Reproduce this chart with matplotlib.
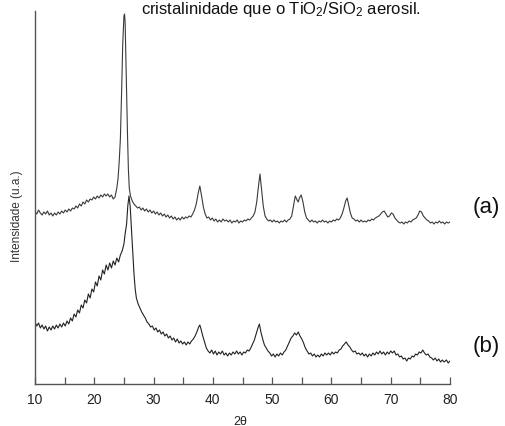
import matplotlib
matplotlib.use('Agg')
import matplotlib.pyplot as plt
from matplotlib.ticker import MultipleLocator

plt.rcParams['font.family'] = ['Liberation Sans', 'DejaVu Sans']
plt.rcParams['mathtext.fontset'] = 'custom'
plt.rcParams['mathtext.rm'] = 'Liberation Sans'
plt.rcParams['mathtext.it'] = 'Liberation Sans'

# sample (a) (intensity in arbitrary units)
two_theta_a = [10.0, 10.3, 10.6, 10.9, 11.2, 11.5, 11.8, 12.1, 12.4, 12.7, 13.0, 13.3, 13.6, 13.9,
               14.2, 14.5, 14.8, 15.1, 15.4, 15.7, 16.0, 16.3, 16.6, 16.9, 17.2, 17.5, 17.8, 18.1,
               18.4, 18.7, 19.0, 19.3, 19.6, 19.9, 20.2, 20.5, 20.8, 21.1, 21.4, 21.7, 22.0, 22.3,
               22.6, 22.9, 23.2, 23.5, 23.8, 24.0, 24.2, 24.4, 24.6, 24.8, 25.0, 25.1, 25.2, 25.35,
               25.5, 25.6, 25.75, 25.9, 26.1, 26.4, 26.7, 27.0, 27.3, 27.6, 27.9, 28.2, 28.5, 28.8,
               29.1, 29.4, 29.7, 30.0, 30.3, 30.6, 30.9, 31.2, 31.5, 31.8, 32.1, 32.4, 32.7, 33.0,
               33.3, 33.6, 33.9, 34.2, 34.5, 34.8, 35.1, 35.4, 35.7, 36.0, 36.3, 36.6, 36.9, 37.2,
               37.5, 37.8, 38.1, 38.4, 38.7, 39.0, 39.3, 39.6, 39.9, 40.2, 40.5, 40.8, 41.1, 41.4,
               41.7, 42.0, 42.3, 42.6, 42.9, 43.2, 43.5, 43.8, 44.1, 44.4, 44.7, 45.0, 45.3, 45.6,
               45.9, 46.2, 46.5, 46.8, 47.1, 47.4, 47.7, 47.95, 48.2, 48.5, 48.8, 49.1, 49.4, 49.7,
               50.0, 50.3, 50.6, 50.9, 51.2, 51.5, 51.8, 52.1, 52.4, 52.7, 53.0, 53.3, 53.6, 53.9,
               54.2, 54.4, 54.6, 54.9, 55.2, 55.5, 55.8, 56.1, 56.4, 56.7, 57.0, 57.3, 57.6, 57.9,
               58.2, 58.5, 58.8, 59.1, 59.4, 59.7, 60.0, 60.3, 60.6, 60.9, 61.2, 61.5, 61.8, 62.1,
               62.4, 62.65, 62.9, 63.2, 63.5, 63.8, 64.1, 64.4, 64.7, 65.0, 65.3, 65.6, 65.9, 66.2,
               66.5, 66.8, 67.1, 67.4, 67.7, 68.0, 68.3, 68.6, 68.9, 69.2, 69.5, 69.8, 70.1, 70.4,
               70.7, 71.0, 71.3, 71.6, 71.9, 72.2, 72.5, 72.8, 73.1, 73.4, 73.7, 74.0, 74.3, 74.6,
               74.9, 75.2, 75.5, 75.8, 76.1, 76.4, 76.7, 77.0, 77.3, 77.6, 77.9, 78.2, 78.5, 78.8,
               79.1, 79.4, 79.7, 80.0]
intens_a = [172, 170, 174, 171, 169, 172, 170, 173, 169, 171, 168, 171, 169, 172,
            170, 173, 171, 174, 172, 175, 173, 176, 175, 178, 176, 180, 178, 182,
            180, 184, 182, 185, 184, 187, 185, 188, 186, 189, 187, 190, 188, 190,
            187, 189, 185, 187, 196, 205, 222, 245, 290, 340, 368, 370, 362, 320,
            275, 250, 215, 196, 188, 183, 180, 178, 176, 177, 174, 176, 173, 175,
            172, 174, 171, 173, 170, 172, 169, 171, 168, 170, 167, 169, 166, 168,
            165, 167, 164, 166, 164, 167, 165, 167, 166, 168, 167, 170, 174, 180,
            190, 198, 188, 177, 170, 166, 167, 164, 166, 163, 165, 162, 164, 162,
            165, 163, 164, 162, 164, 161, 163, 162, 164, 161, 163, 162, 164, 163,
            165, 164, 166, 168, 172, 182, 198, 210, 195, 178, 168, 165, 163, 164,
            162, 164, 162, 163, 161, 163, 162, 164, 162, 164, 165, 168, 178, 188,
            184, 182, 186, 189, 182, 172, 166, 164, 162, 164, 162, 163, 161, 163,
            162, 164, 162, 163, 161, 163, 162, 164, 163, 165, 164, 166, 170, 176,
            183, 186, 179, 171, 166, 165, 163, 164, 162, 164, 162, 163, 162, 164,
            163, 165, 164, 166, 167, 168, 170, 172, 173, 170, 167, 168, 171, 170,
            166, 164, 162, 161, 162, 160, 162, 161, 163, 162, 164, 165, 166, 169,
            173, 172, 168, 166, 164, 163, 161, 162, 160, 162, 161, 163, 161, 162,
            160, 162, 161, 162]

# sample (b)
two_theta_b = [10.0, 10.3, 10.6, 10.9, 11.2, 11.5, 11.8, 12.1, 12.4, 12.7, 13.0, 13.3, 13.6, 13.9,
               14.2, 14.5, 14.8, 15.1, 15.4, 15.7, 16.0, 16.3, 16.6, 16.9, 17.2, 17.5, 17.8, 18.1,
               18.4, 18.7, 19.0, 19.3, 19.6, 19.9, 20.2, 20.5, 20.8, 21.1, 21.4, 21.7, 22.0, 22.3,
               22.6, 22.9, 23.2, 23.5, 23.8, 24.1, 24.4, 24.7, 25.0, 25.2, 25.45, 25.65, 25.85, 26.05,
               26.3, 26.5, 26.7, 26.9, 27.1, 27.4, 27.7, 28.0, 28.3, 28.6, 28.9, 29.2, 29.5, 29.8,
               30.1, 30.4, 30.7, 31.0, 31.3, 31.6, 31.9, 32.2, 32.5, 32.8, 33.1, 33.4, 33.7, 34.0,
               34.3, 34.6, 34.9, 35.2, 35.5, 35.8, 36.1, 36.4, 36.7, 37.0, 37.3, 37.6, 37.8, 38.0,
               38.3, 38.6, 38.9, 39.2, 39.5, 39.8, 40.1, 40.4, 40.7, 41.0, 41.3, 41.6, 41.9, 42.2,
               42.5, 42.8, 43.1, 43.4, 43.7, 44.0, 44.3, 44.6, 44.9, 45.2, 45.5, 45.8, 46.1, 46.4,
               46.7, 47.0, 47.3, 47.6, 47.85, 48.1, 48.4, 48.7, 49.0, 49.3, 49.6, 49.9, 50.2, 50.5,
               50.8, 51.1, 51.4, 51.7, 52.0, 52.3, 52.6, 52.9, 53.2, 53.5, 53.8, 54.1, 54.4, 54.7,
               55.0, 55.3, 55.6, 55.9, 56.2, 56.5, 56.8, 57.1, 57.4, 57.7, 58.0, 58.3, 58.6, 58.9,
               59.2, 59.5, 59.8, 60.1, 60.4, 60.7, 61.0, 61.3, 61.6, 61.9, 62.2, 62.5, 62.8, 63.1,
               63.4, 63.7, 64.0, 64.3, 64.6, 64.9, 65.2, 65.5, 65.8, 66.1, 66.4, 66.7, 67.0, 67.3,
               67.6, 67.9, 68.2, 68.5, 68.8, 69.1, 69.4, 69.7, 70.0, 70.3, 70.6, 70.9, 71.2, 71.5,
               71.8, 72.1, 72.4, 72.7, 73.0, 73.3, 73.6, 73.9, 74.2, 74.5, 74.8, 75.1, 75.4, 75.7,
               76.0, 76.3, 76.6, 76.9, 77.2, 77.5, 77.8, 78.1, 78.4, 78.7, 79.0, 79.4, 79.7, 80.0]
intens_b = [62, 58, 61, 56, 59, 55, 58, 53, 57, 54, 58, 55, 59, 56,
            60, 57, 61, 58, 63, 60, 66, 63, 70, 67, 74, 71, 79, 76,
            84, 81, 90, 86, 95, 92, 102, 98, 108, 104, 114, 110, 119, 114,
            121, 116, 123, 119, 126, 122, 129, 133, 140, 150, 160, 178, 188, 178,
            152, 130, 110, 95, 86, 80, 76, 72, 69, 66, 62, 60, 57, 58,
            54, 56, 52, 54, 50, 52, 48, 50, 46, 48, 44, 46, 42, 45,
            41, 43, 40, 42, 39, 42, 40, 43, 45, 48, 52, 57, 59, 55,
            48, 42, 36, 33, 31, 34, 30, 33, 29, 32, 30, 33, 29, 31,
            28, 31, 29, 32, 30, 33, 30, 32, 29, 32, 31, 34, 33, 36,
            40, 44, 50, 56, 60, 52, 45, 39, 36, 33, 31, 28, 30, 27,
            30, 28, 31, 29, 32, 34, 38, 42, 46, 48, 51, 49, 52, 48,
            45, 41, 36, 33, 30, 31, 28, 30, 27, 29, 27, 30, 28, 31,
            29, 31, 29, 32, 30, 32, 31, 34, 35, 38, 40, 42, 39, 37,
            34, 32, 33, 30, 31, 29, 31, 28, 30, 27, 30, 28, 31, 29,
            32, 30, 33, 30, 32, 29, 32, 30, 33, 31, 33, 29, 30, 27,
            28, 25, 26, 23, 26, 25, 28, 27, 30, 29, 32, 31, 34, 31,
            29, 30, 27, 26, 24, 26, 23, 25, 22, 24, 22, 24, 21, 23]

x_ticks = [10, 20, 30, 40, 50, 60, 70, 80]
sample_labels = ['(a)', '(b)']

fig = plt.figure(figsize=(5.05, 4.27), dpi=100)
ax = fig.add_axes([35 / 505, 1 - 385 / 427, 415 / 505, 373 / 427])

ax.plot(two_theta_a, intens_a, color='#3a3a3a', linewidth=0.8)
ax.plot(two_theta_b, intens_b, color='#222222', linewidth=0.8)

ax.set_xlim(10, 80)
ax.set_ylim(0, 373)
ax.set_xticks(x_ticks)
ax.xaxis.set_minor_locator(MultipleLocator(5))
ax.set_yticks([])
for side in ['top', 'right']:
    ax.spines[side].set_visible(False)
for side in ['left', 'bottom']:
    ax.spines[side].set_color('#555555')
    ax.spines[side].set_linewidth(1.0)
ax.tick_params(axis='x', which='both', direction='in', length=5, width=0.9,
               color='#555555', labelsize=10, labelcolor='#222222', pad=6)

# labels placed on the figure like in the scanned page
fig.text(17 / 505, 1 - 216 / 427, 'Intensidade (u.a.)', rotation=90,
         ha='center', va='center', fontsize=8.5, color='#333333')
fig.text(240 / 505, 1 - 425 / 427, '2θ', ha='center', va='baseline',
         fontsize=9, color='#222222')
fig.text(473 / 505, 1 - 208 / 427, sample_labels[0], ha='left', va='center',
         fontsize=16, color='#111111')
fig.text(473 / 505, 1 - 347 / 427, sample_labels[1], ha='left', va='center',
         fontsize=16, color='#111111')

# line of text from the page above the figure
fig.text(421 / 505, 1 - 14 / 427, r'cristalinidade que o TiO$_2$/SiO$_2$ aerosil.',
         ha='right', va='baseline', fontsize=12, color='#111111')

fig.savefig('out.png', dpi=100)
